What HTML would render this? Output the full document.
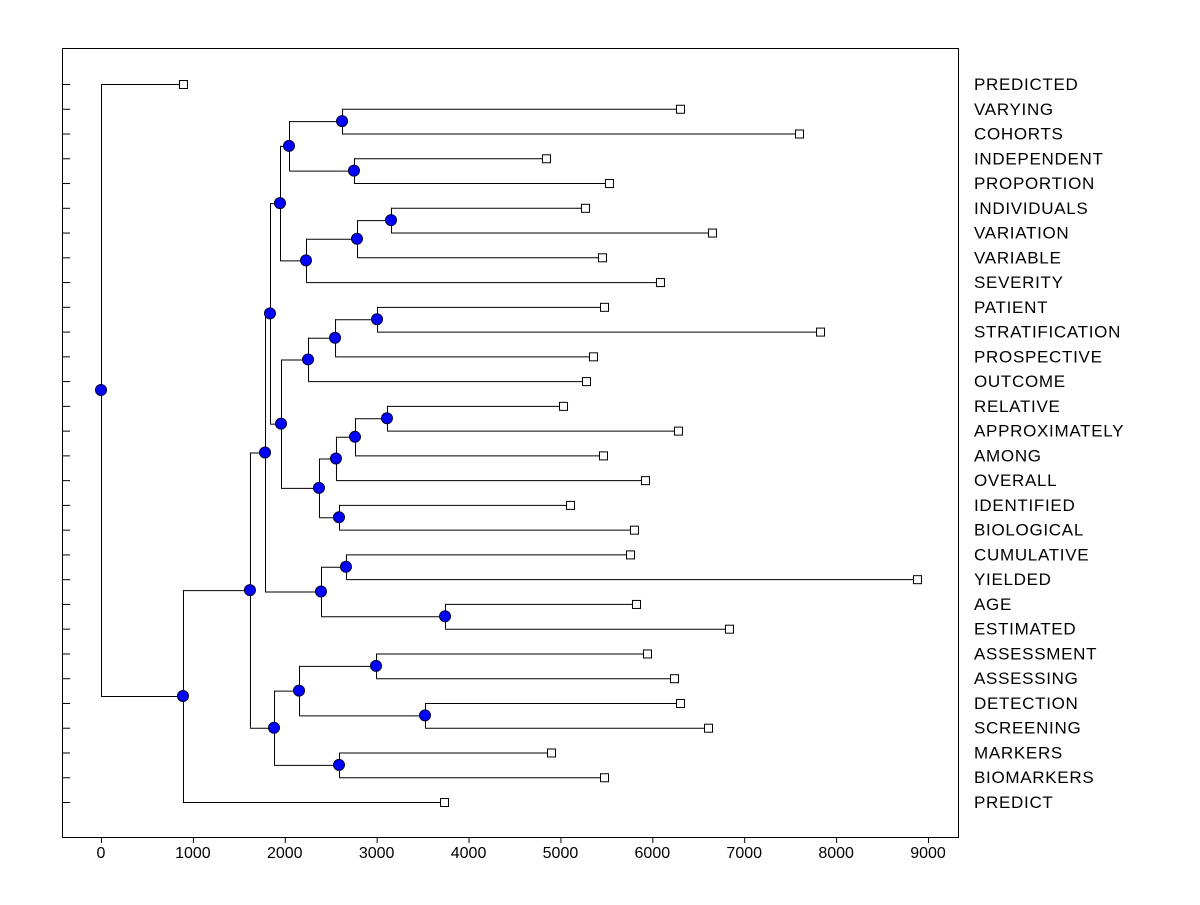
<!DOCTYPE html>
<html><head><meta charset="utf-8"><style>
body{margin:0;background:#fff}
svg text{font-family:"Liberation Sans",Arial,sans-serif;font-size:16px;fill:#000}
svg text.leaf{font-size:17px;letter-spacing:0.7px}
</style></head><body>
<svg id="c" width="1200" height="900">
<rect x="62.5" y="48.5" width="896" height="789" fill="#fff" stroke="#000"/>
<g id="g"></g>
</svg>
<script>
const leafNames=["PREDICTED","VARYING","COHORTS","INDEPENDENT","PROPORTION","INDIVIDUALS","VARIATION","VARIABLE","SEVERITY","PATIENT","STRATIFICATION","PROSPECTIVE","OUTCOME","RELATIVE","APPROXIMATELY","AMONG","OVERALL","IDENTIFIED","BIOLOGICAL","CUMULATIVE","YIELDED","AGE","ESTIMATED","ASSESSMENT","ASSESSING","DETECTION","SCREENING","MARKERS","BIOMARKERS","PREDICT"];
const leafValues=[892,6301,7596,4843,5528,5267,6649,5452,6083,5474,7825,5354,5278,5028,6279,5463,5920,5104,5800,5757,8880,5822,6834,5942,6236,6301,6606,4897,5474,3733];
const mergeLeft=[1,3,30,5,33,34,32,9,37,38,13,40,41,17,42,39,36,19,21,47,46,23,25,51,27,53,50,56,0];
const mergeRight=[2,4,31,6,7,8,35,10,11,12,14,15,16,18,43,44,45,20,22,48,49,24,26,52,28,54,55,29,57];
const mergeHeights=[2623,2753,2046,3156,2786,2231,1948,3004,2547,2253,3112,2764,2557,2590,2372,1959,1839,2666,3744,2394,1785,2993,3526,2155,2590,1883,1621,892,0];
const xTicks=[0,1000,2000,3000,4000,5000,6000,7000,8000,9000];
const NS="http://www.w3.org/2000/svg";
const g=document.getElementById('g');
const xs=v=>101+v*(827/9000);
const ys=i=>84+i*(718/29);
function mk(t,a){const e=document.createElementNS(NS,t);for(const k in a)e.setAttribute(k,a[k]);g.appendChild(e);return e;}
leafNames.forEach((n,i)=>{const l=mk('line',{x1:62,x2:70,y1:ys(i)+.5,y2:ys(i)+.5,stroke:'#000'});

});
xTicks.forEach(t=>{const l=mk('line',{x1:xs(t)+.5,x2:xs(t)+.5,y1:837,y2:843,stroke:'#000'});


const tx=mk('text',{x:xs(t),y:858,'text-anchor':'middle'});tx.textContent=t;

});
const pos={};
leafNames.forEach((n,i)=>{pos[i]={x:xs(leafValues[i]),y:ys(i)};});
const nodes=[];
mergeLeft.forEach((a,k)=>{const b=mergeRight[k];const id=30+k;const x=xs(mergeHeights[k]);
const pa=pos[a],pb=pos[b];const y=(pa.y+pb.y)/2;pos[id]={x:x,y:y};
[pa,pb].forEach(p=>{const l=mk('line',{x1:x,x2:p.x,y1:p.y+.5,y2:p.y+.5,stroke:'#000'});

});
const v=mk('line',{x1:x+.5,x2:x+.5,y1:pa.y,y2:pb.y,stroke:'#000'});


nodes.push({x:x,y:y});});
nodes.forEach(n=>{const c=mk('circle',{cx:n.x,cy:n.y,r:5.5,fill:'#0000ff',stroke:'#000033','stroke-width':1});

});
leafNames.forEach((n,i)=>{const p=pos[i];
const r=mk('rect',{x:p.x-3.5,y:p.y-3.5,width:8,height:8,fill:'#fff',stroke:'#000'});


const t=mk('text',{x:974,y:p.y+6,'class':'leaf'});t.textContent=n;

});
</script>
</body></html>
